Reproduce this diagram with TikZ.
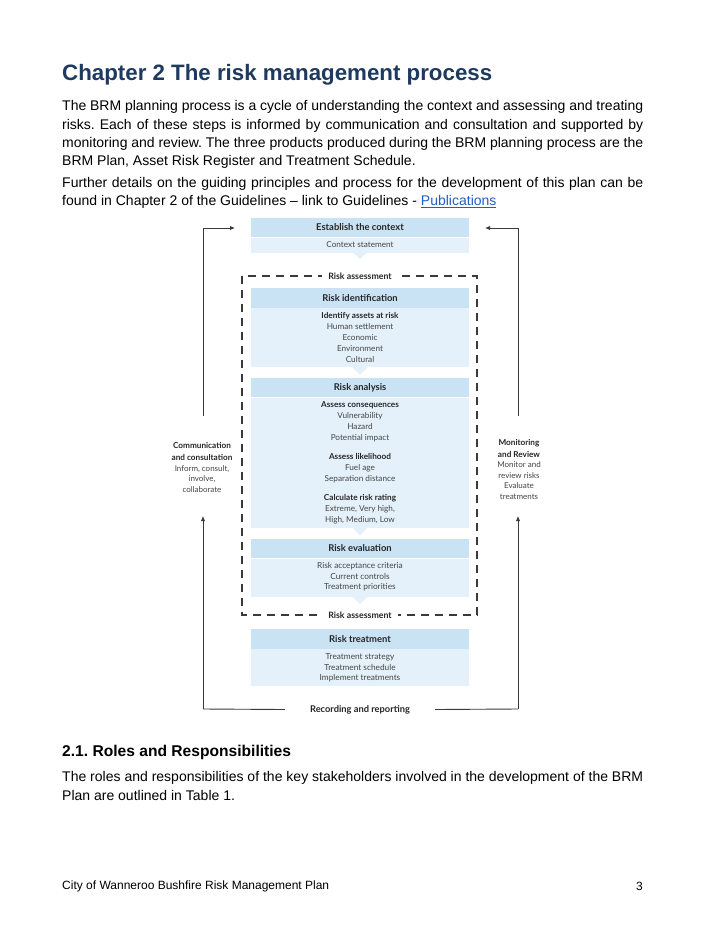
\documentclass[tikz,border=0pt]{standalone}
\usepackage{fontspec}
\setmainfont{Liberation Sans}
\newfontfamily\dfont{Lato}
\usetikzlibrary{arrows.meta}
\frenchspacing
\definecolor{navy}{HTML}{1F3A5F}
\definecolor{hdr}{HTML}{C9E2F4}
\definecolor{bdy}{HTML}{E4F1FA}
\definecolor{htxt}{HTML}{262626}
\definecolor{dtxt}{HTML}{454545}
\definecolor{lnk}{HTML}{1F5FC4}
\definecolor{lin}{HTML}{3A3A3A}
\tikzset{
  para/.style={anchor=north west, inner sep=0, text width=581pt, align=justify, font=\fontsize{14}{18.3}\selectfont},
  hdrbox/.style={fill=hdr, minimum width=218, minimum height=19.5, inner sep=0, text=htxt, font=\dfont\bfseries\fontsize{9.4}{10}\selectfont},
  bdybox/.style={fill=bdy, minimum width=218, inner sep=0, anchor=north},
  ctext/.style={inner sep=0, align=center, text=dtxt, font=\dfont\fontsize{8.2}{11}\selectfont},
  lbl/.style={inner sep=0, inner xsep=6, fill=white, text=htxt, font=\dfont\bfseries\fontsize{8.8}{10}\selectfont},
  sideb/.style={inner sep=0, align=center, text=htxt, font=\dfont\bfseries\fontsize{8.2}{12}\selectfont},
  sidet/.style={inner sep=0, align=center, text=dtxt, font=\dfont\fontsize{8}{10.4}\selectfont},
  loop/.style={draw=lin, line width=0.9},
  arr/.style={loop, -{Latex[length=5pt,width=4.5pt]}},
  dashrect/.style={draw=lin, line width=1.1, dash pattern=on 8pt off 6pt},
  ptr/.style={fill=bdy}
}
\begin{document}
\begin{tikzpicture}[x=1pt,y=-1pt]
\useasboundingbox (0,0) rectangle (705,929);
\fill[white] (0,0) rectangle (705,929);

% title and text
\node[anchor=west, inner sep=0, text=navy, font=\bfseries\fontsize{22.3}{26}\selectfont] (title) at (62,75) {Chapter 2 The risk management process};
\node[para] (p1) at (62,100.5)
{The BRM planning process is a cycle of understanding the context and assessing and treating\linebreak risks. Each of these steps is informed by communication and consultation and supported by\linebreak monitoring and review. The three products produced during the BRM planning process are the\linebreak BRM Plan, Asset Risk Register and Treatment Schedule.};
\node[para] (p2) at (62,177)
{Further details on the guiding principles and process for the development of this plan can be\linebreak found in Chapter 2 of the Guidelines -- link to Guidelines - {\color{lnk}\underbar{Publications}}};

% stage boxes
\node[hdrbox] (h1) at (360,227.5) {Establish the context};
\node[bdybox, minimum height=15] (b1) at (h1.south) {};
\node[ctext] (t1) at (360,244.5) {Context statement};
\fill[ptr] (352,251.5) -- (368,251.5) -- (360,259) -- cycle;

\node[hdrbox] (h2) at (360,298) {Risk identification};
\node[bdybox, minimum height=59] (b2) at (h2.south) {};
\node[ctext] (t2) at (360,337.5) {{\color{htxt}\bfseries Identify assets at risk}\\Human settlement\\Economic\\Environment\\Cultural};
\fill[ptr] (352,367) -- (368,367) -- (360,374.5) -- cycle;

\node[hdrbox] (h3) at (360,387.5) {Risk analysis};
\node[bdybox, minimum height=130] (b3) at (h3.south) {};
\node[ctext] (t3a) at (360,422) {{\color{htxt}\bfseries Assess consequences}\\Vulnerability\\Hazard\\Potential impact};
\node[ctext] (t3b) at (360,468.5) {{\color{htxt}\bfseries Assess likelihood}\\Fuel age\\Separation distance};
\node[ctext] (t3c) at (360,509.5) {{\color{htxt}\bfseries Calculate risk rating}\\Extreme, Very high,\\High, Medium, Low};
\fill[ptr] (352,527) -- (368,527) -- (360,535.5) -- cycle;

\node[hdrbox] (h4) at (360,548.5) {Risk evaluation};
\node[bdybox, minimum height=38] (b4) at (h4.south) {};
\node[ctext, font=\dfont\fontsize{8.3}{10.6}\selectfont] (t4) at (360,577) {Risk acceptance criteria\\Current controls\\Treatment priorities};
\fill[ptr] (352,596) -- (368,596) -- (360,604) -- cycle;

\node[hdrbox] (h5) at (360,639) {Risk treatment};
\node[bdybox, minimum height=37] (b5) at (h5.south) {};
\node[ctext, font=\dfont\fontsize{8.3}{10.6}\selectfont] (t5) at (360,668) {Treatment strategy\\Treatment schedule\\Implement treatments};

% risk assessment dashed frame
\coordinate (dtl) at (242,276);
\coordinate (dbr) at (477,615);
\draw[dashrect] (dtl) rectangle (dbr);
\node[lbl] (ra1) at (360,276.5) {Risk assessment};
\node[lbl] (ra2) at (360,615.5) {Risk assessment};

% side texts
\node[sideb] (cc) at (202,451) {Communication\\and consultation};
\node[sidet] (cct) at (202,479) {Inform, consult,\\involve,\\collaborate};
\node[sideb] (mr) at (519,448) {Monitoring\\and Review};
\node[sidet] (mrt) at (519,480.5) {Monitor and\\review risks\\Evaluate\\treatments};
\node[inner sep=0, fill=white, inner xsep=25, text=htxt, font=\dfont\bfseries\fontsize{9.3}{10}\selectfont] (rr) at (360,709.5) {Recording and reporting};

% loop lines
\coordinate (ltop) at (203,416);
\coordinate (lcor) at (203,228);
\coordinate (lend) at (235,228);
\coordinate (rtop) at (518,416);
\coordinate (rcor) at (518,228);
\coordinate (rend) at (485,228);
\coordinate (lbot) at (203,709);
\coordinate (lup) at (203,516);
\coordinate (rbot) at (518,709);
\coordinate (rup) at (518,516);
\draw[arr] (ltop) -- (lcor) -- (lend);
\draw[arr] (rtop) -- (rcor) -- (rend);
\draw[loop] (rr.west) -- (lbot);
\draw[arr] (lbot) -- (lup);
\draw[loop] (rr.east) -- (rbot);
\draw[arr] (rbot) -- (rup);

% section 2.1
\node[anchor=west, inner sep=0, text=black, font=\bfseries\fontsize{15.6}{20}\selectfont] (sec) at (62,752) {2.1. Roles and Responsibilities};
\node[para] (p3) at (62,771.5)
{The roles and responsibilities of the key stakeholders involved in the development of the BRM\linebreak Plan are outlined in Table 1.};

% footer
\node[anchor=west, inner sep=0, font=\fontsize{12}{14}\selectfont] (foot) at (62,886) {City of Wanneroo Bushfire Risk Management Plan};
\node[anchor=east, inner sep=0, font=\fontsize{12}{14}\selectfont] (pg) at (643,886) {3};
\end{tikzpicture}
\end{document}
